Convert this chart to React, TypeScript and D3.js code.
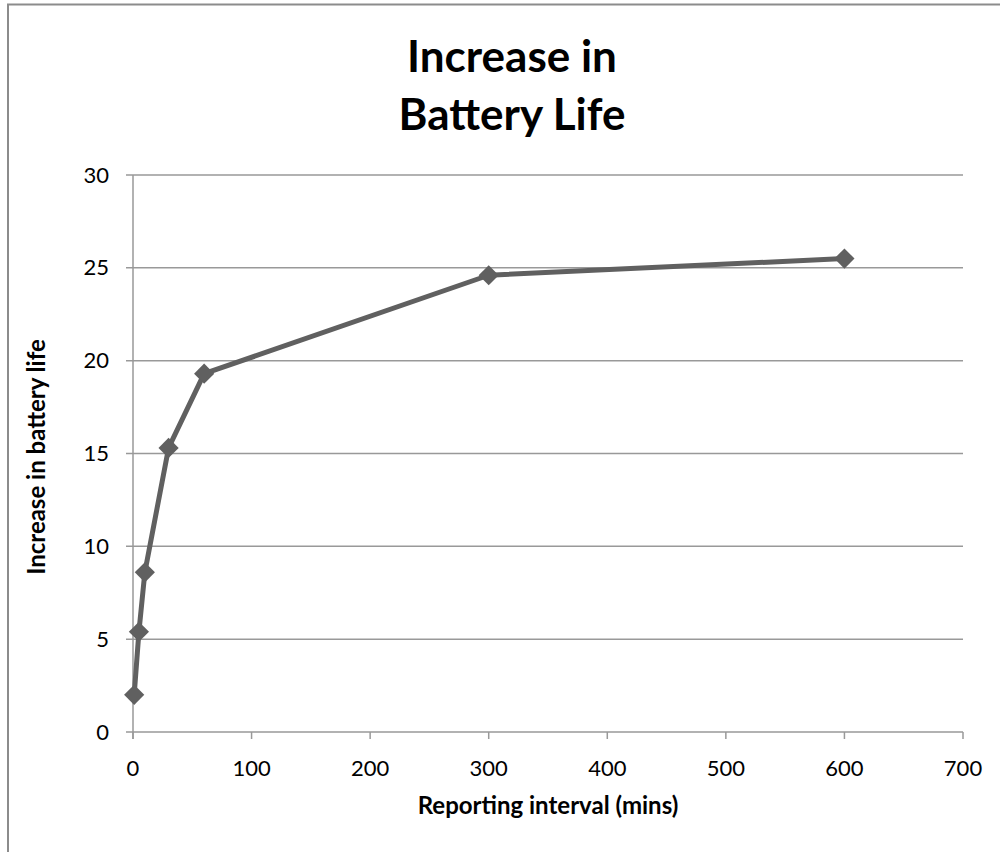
import React, { useEffect, useRef } from "react";
import * as d3 from "d3";

const intervals = [1, 5, 10, 30, 60, 300, 600];
const increase = [2.0, 5.4, 8.6, 15.3, 19.3, 24.6, 25.5];
const xTicks = [0, 100, 200, 300, 400, 500, 600, 700];
const yTicks = [0, 5, 10, 15, 20, 25, 30];
const titleLines = ["Increase in", "Battery Life"];
const xLabel = "Reporting interval (mins)";
const yLabel = "Increase in battery life";

const W = 1000;
const H = 852;
const FONT = "Lato, 'Open Sans', sans-serif";

export default function App() {
  const ref = useRef<SVGSVGElement>(null);
  useEffect(() => {
    const svg = d3.select(ref.current);
    svg.selectAll("*").remove();
    const x = d3.scaleLinear().domain([0, 700]).range([133, 963]);
    const y = d3.scaleLinear().domain([0, 30]).range([732, 175]);

    svg.append("rect").attr("width", W).attr("height", H).attr("fill", "#fff");
    // outer chart border
    svg.append("path")
      .attr("d", `M8,${H + 5} L8,4.5 L${W + 5},4.5`)
      .attr("fill", "none").attr("stroke", "#8c8c8c").attr("stroke-width", 2);

    // gridlines
    const g = svg.append("g");
    g.selectAll("line.grid").data(yTicks).enter().append("line")
      .attr("x1", 126).attr("x2", 963)
      .attr("y1", (d) => y(d)).attr("y2", (d) => y(d))
      .attr("stroke", "#999").attr("stroke-width", 1.5);
    // y axis line
    g.append("line").attr("x1", x(0)).attr("x2", x(0)).attr("y1", y(30)).attr("y2", y(0) + 7)
      .attr("stroke", "#999").attr("stroke-width", 1.5);
    // x ticks
    g.selectAll("line.xt").data(xTicks).enter().append("line")
      .attr("x1", (d) => x(d)).attr("x2", (d) => x(d))
      .attr("y1", y(0)).attr("y2", y(0) + 7)
      .attr("stroke", "#999").attr("stroke-width", 1.5);

    // tick labels
    g.selectAll("text.yl").data(yTicks).enter().append("text")
      .attr("x", 109).attr("y", (d) => y(d) + 7.5)
      .attr("text-anchor", "end").attr("font-family", FONT).attr("font-size", 22)
      .attr("fill", "#000").text((d) => String(d));
    g.selectAll("text.xl").data(xTicks).enter().append("text")
      .attr("x", (d) => x(d)).attr("y", 776)
      .attr("text-anchor", "middle").attr("font-family", FONT).attr("font-size", 22)
      .attr("fill", "#000").text((d) => String(d));

    // axis titles
    svg.append("text").attr("x", 548).attr("y", 814).attr("text-anchor", "middle")
      .attr("font-family", FONT).attr("font-weight", "bold").attr("font-size", 24)
      .text(xLabel);
    svg.append("text").attr("transform", `translate(45,457) rotate(-90)`)
      .attr("text-anchor", "middle")
      .attr("font-family", FONT).attr("font-weight", "bold").attr("font-size", 24)
      .text(yLabel);

    // title
    svg.selectAll("text.title").data(titleLines).enter().append("text")
      .attr("x", 512).attr("y", (_d, i) => 72 + i * 58)
      .attr("text-anchor", "middle").attr("font-family", FONT)
      .attr("font-weight", "bold").attr("font-size", 44).text((d) => d);

    // series
    const pts = intervals.map((v, i) => [v, increase[i]] as [number, number]);
    const line = d3.line<[number, number]>().x((d) => x(d[0])).y((d) => y(d[1]));
    svg.append("path").attr("d", line(pts) || "").attr("fill", "none")
      .attr("stroke", "#606060").attr("stroke-width", 5).attr("stroke-linejoin", "round");
    const sym = d3.symbol().type(d3.symbolDiamond2).size(260);
    svg.selectAll("path.m").data(pts).enter().append("path")
      .attr("transform", (d) => `translate(${x(d[0])},${y(d[1])})`)
      .attr("d", sym() || "").attr("fill", "#606060");
  }, []);
  return (
    <div style={{ position: "absolute", left: 0, top: 0 }}>
      <svg ref={ref} width={W} height={H} style={{ display: "block" }} />
    </div>
  );
}
